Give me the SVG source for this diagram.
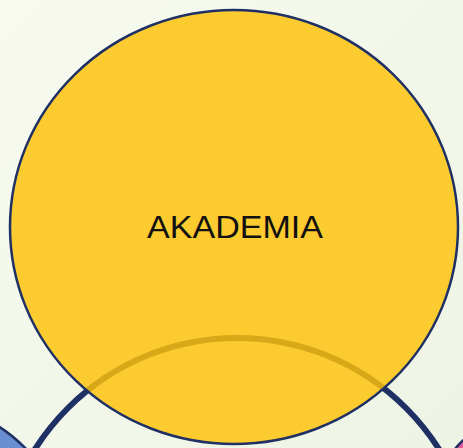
<svg xmlns="http://www.w3.org/2000/svg" width="463" height="448" viewBox="0 0 463 448">
  <defs>
    <linearGradient id="bg" x1="0" y1="0" x2="1" y2="1">
      <stop offset="0" stop-color="#F8FAEF"/>
      <stop offset="1" stop-color="#EDF4E5"/>
    </linearGradient>
  </defs>
  <style>
    .ring { fill: none; stroke: #1F3064; stroke-width: 6; }
    .edge { stroke: #1F3064; stroke-width: 2.5; }
    .label { font-family: "Liberation Sans", Arial, sans-serif; font-size: 31px; fill: #111111; }
  </style>
  <rect x="0" y="0" width="463" height="448" fill="url(#bg)"/>
  <g id="node-lower">
    <circle class="ring" cx="237" cy="577" r="239"/>
  </g>
  <g id="node-blue">
    <circle class="edge" cx="-80" cy="550" r="146.5" fill="#6A8ED2"/>
  </g>
  <g id="node-pink">
    <circle class="edge" cx="560" cy="540" r="139" fill="#E2589B"/>
  </g>
  <g id="node-akademia">
    <ellipse cx="234" cy="227" rx="224" ry="217" fill="#FDC20A" fill-opacity="0.83" stroke="#1F3064" stroke-width="2.5"/>
    <text class="label" x="235" y="238" text-anchor="middle" textLength="176" lengthAdjust="spacingAndGlyphs">AKADEMIA</text>
  </g>
</svg>
